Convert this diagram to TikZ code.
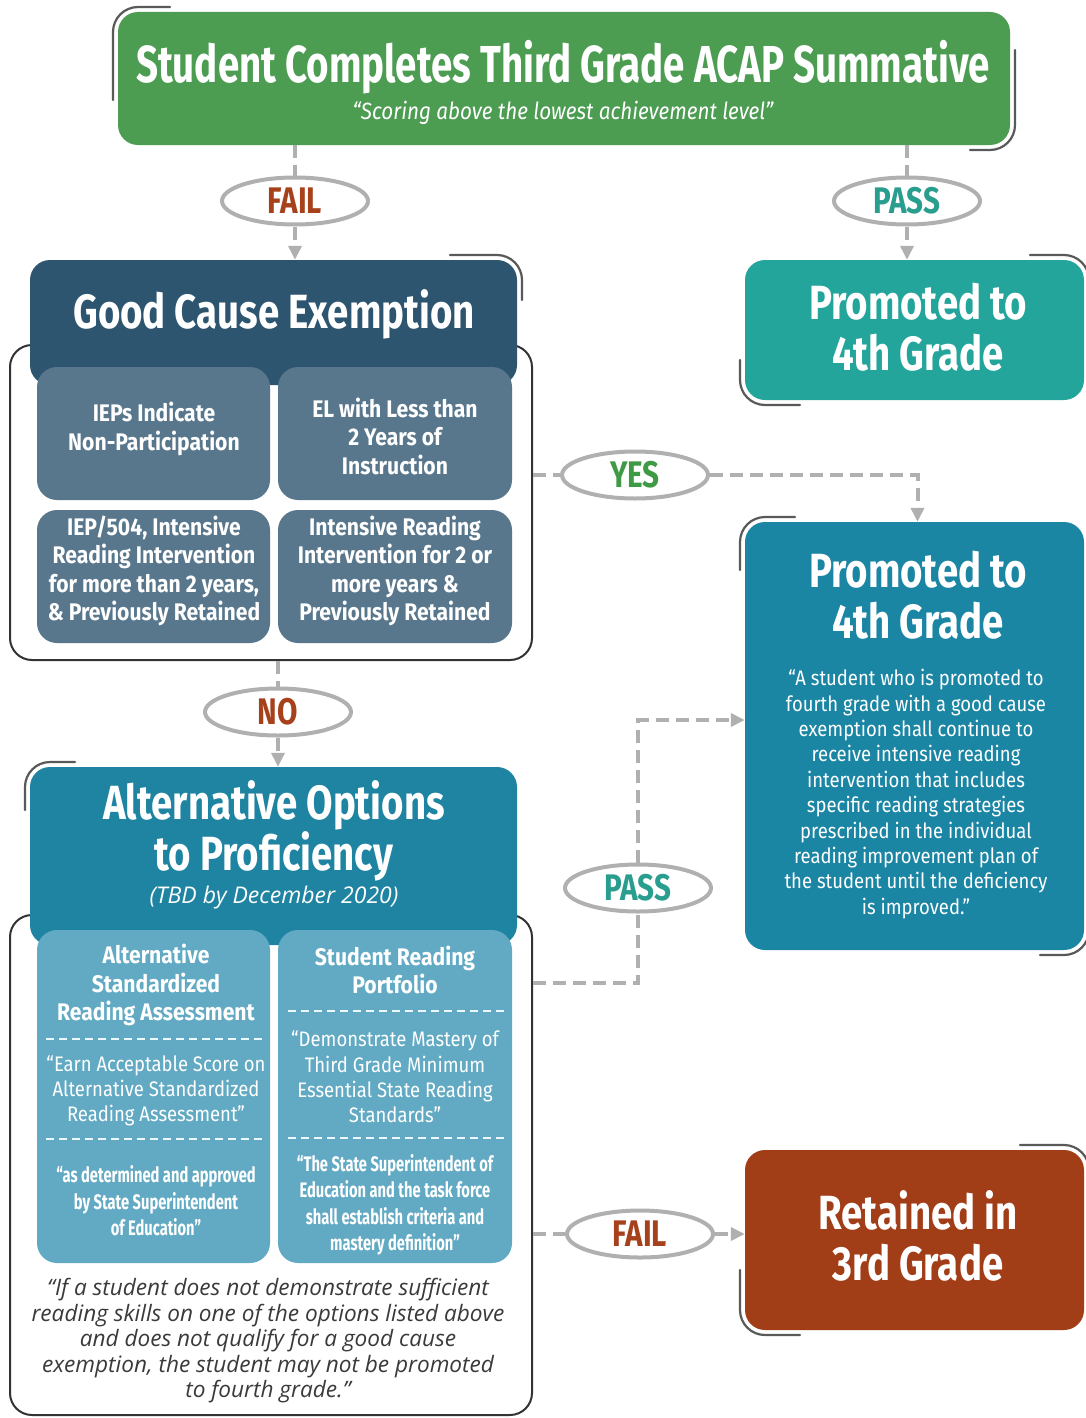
\documentclass[tikz,border=0pt]{standalone}
\usepackage{fontspec}
\setmainfont{Fira Sans}
\newfontfamily\ttlf[FakeStretch=0.74]{Fira Sans}
\newfontfamily\hd[FakeStretch=0.8]{Fira Sans}
\newfontfamily\cnd[FakeStretch=0.88]{Fira Sans}
\newfontfamily\bcnd[FakeStretch=0.88]{Fira Sans}
\newfontfamily\xcnd[FakeStretch=0.7]{Fira Sans}
\newfontfamily\itf{Open Sans}
\usetikzlibrary{arrows.meta,shapes.geometric,calc}
\definecolor{cgreen}{HTML}{4C9C52}
\definecolor{cgce}{HTML}{2D5570}
\definecolor{cslate}{HTML}{58778C}
\definecolor{calt}{HTML}{1E84A1}
\definecolor{caltin}{HTML}{62AAC3}
\definecolor{cprom}{HTML}{24A59B}
\definecolor{cprom2}{HTML}{1B85A4}
\definecolor{cret}{HTML}{A13D17}
\definecolor{cfail}{HTML}{A6411B}
\definecolor{cpass}{HTML}{2A9E8E}
\definecolor{cyes}{HTML}{3F9A45}
\definecolor{cgray}{HTML}{B0B0B0}
\definecolor{cpara}{HTML}{3A3A3A}
\begin{document}
\begin{tikzpicture}[x=1pt,y=-1pt,
  conn/.style={draw=cgray, line width=4pt, dash pattern=on 13pt off 7pt},
  arr/.style={-{Triangle[length=14pt,width=13pt]}},
  lbl/.style={ellipse, draw=cgray, line width=4pt, fill=white, minimum width=146pt, minimum height=47pt, inner sep=0pt, font=\hd\bfseries\fontsize{37}{37}\selectfont},
  box/.style={rounded corners=20pt, inner sep=0pt},
  outer/.style={rounded corners=22pt, draw=black!80, line width=2pt, fill=white, inner sep=0pt},
  shad/.style={draw=black!65, line width=2.2pt, line cap=round},
  sep/.style={draw=white!92!cyan, line width=1.5pt, dash pattern=on 8pt off 5pt},
  txt/.style={text=white, align=center, inner sep=0pt},
  hdbig/.style={txt, font=\hd\bfseries\fontsize{48}{51}\selectfont},
  inbold/.style={txt, font=\bcnd\bfseries\fontsize{24}{28.5}\selectfont},
  inreg/.style={txt, font=\cnd\fontsize{21}{25.2}\selectfont},
  inx/.style={txt, font=\xcnd\bfseries\fontsize{21}{26.5}\selectfont}
]
\useasboundingbox (0,0) rectangle (1086,1418);
\fill[white] (0,0) rectangle (1086,1418);

% corner shadows
\draw[shad] (113,100) -- (113,32) arc[start angle=180,end angle=270,radius=25] -- (170,7);
\draw[shad] (1015,50) -- (1015,125) arc[start angle=0,end angle=90,radius=25] -- (970,150);
\draw[shad] (450,255) -- (497,255) arc[start angle=270,end angle=360,radius=25] -- (522,300);
\draw[shad] (1030,255) -- (1064,255) arc[start angle=270,end angle=360,radius=25] -- (1089,300);
\draw[shad] (740,360) -- (740,380) arc[start angle=180,end angle=90,radius=25] -- (800,405);
\draw[shad] (740,570) -- (740,542) arc[start angle=180,end angle=270,radius=25] -- (795,517);
\draw[shad] (1089,900) -- (1089,930) arc[start angle=0,end angle=90,radius=25] -- (1040,955);
\draw[shad] (25,810) -- (25,787) arc[start angle=180,end angle=270,radius=25] -- (75,762);
\draw[shad] (1020,1145) -- (1064,1145) arc[start angle=270,end angle=360,radius=25] -- (1089,1190);
\draw[shad] (740,1270) -- (740,1310) arc[start angle=180,end angle=90,radius=25] -- (800,1335);

% top box
\node[box, fill=cgreen, minimum width=892pt, minimum height=133pt] (top) at (564,78.5) {};
\node[txt, font=\ttlf\bfseries\fontsize{52}{52}\selectfont] (ttl) at (563,67) {Student Completes Third Grade ACAP Summative};
\node[txt, font=\cnd\itshape\fontsize{23.5}{23.5}\selectfont] (sub) at (563,113) {“Scoring above the lowest achievement level”};

% right boxes
\node[box, fill=cprom, minimum width=339pt, minimum height=140pt] (prom1) at (914.5,330) {};
\node[hdbig] (prom1t) at (918,327) {Promoted to\\4th Grade};

\node[box, fill=cprom2, minimum width=339pt, minimum height=428pt] (prom2) at (914.5,736) {};
\node[hdbig] (prom2t) at (918,595) {Promoted to\\4th Grade};
\node[txt, font=\cnd\fontsize{21}{25.4}\selectfont] (prom2b) at (916,794) {“A student who is promoted to\\fourth grade with a good cause\\exemption shall continue to\\receive intensive reading\\intervention that includes\\specific reading strategies\\prescribed in the individual\\reading improvement plan of\\the student until the deficiency\\is improved.”};

\node[box, fill=cret, minimum width=339pt, minimum height=180pt] (ret) at (914.5,1240) {};
\node[hdbig] (rett) at (918,1236) {Retained in\\3rd Grade};

% good cause exemption
\node[outer, minimum width=522pt, minimum height=315pt] (gceo) at (271,502.5) {};
\node[box, fill=cgce, minimum width=487pt, minimum height=125pt] (gce) at (273.5,322.5) {};
\node[txt, font=\hd\bfseries\fontsize{48}{48}\selectfont] (gcet) at (274,314) {Good Cause Exemption};
\node[box, fill=cslate, minimum width=233pt, minimum height=133pt] (g1) at (153.5,433.5) {};
\node[box, fill=cslate, minimum width=234pt, minimum height=133pt] (g2) at (395,433.5) {};
\node[box, fill=cslate, minimum width=233pt, minimum height=133pt] (g3) at (153.5,576.5) {};
\node[box, fill=cslate, minimum width=234pt, minimum height=133pt] (g4) at (395,576.5) {};
\node[inbold] (g1t) at (154,429) {IEPs Indicate\\Non-Participation};
\node[inbold] (g2t) at (395,436) {EL with Less than\\2 Years of\\Instruction};
\node[inbold] (g3t) at (154,571) {IEP/504, Intensive\\Reading Intervention\\for more than 2 years,\\\& Previously Retained};
\node[inbold] (g4t) at (395,571) {Intensive Reading\\Intervention for 2 or\\more years \&\\Previously Retained};

% alternative options
\node[outer, minimum width=522pt, minimum height=500pt] (alto) at (271,1165) {};
\node[box, fill=calt, minimum width=487pt, minimum height=178pt] (alt) at (273.5,856) {};
\node[txt, font=\hd\bfseries\fontsize{48}{47}\selectfont] (altt) at (274,831) {Alternative Options\\to Proficiency};
\node[txt, font=\itf\itshape\fontsize{23}{23}\selectfont] (alts) at (274,898) {(TBD by December 2020)};
\node[box, fill=caltin, minimum width=233pt, minimum height=333pt] (a1) at (153.5,1096.5) {};
\node[box, fill=caltin, minimum width=234pt, minimum height=333pt] (a2) at (395,1096.5) {};
\node[inbold] (a1t) at (156,985) {Alternative\\Standardized\\Reading Assessment};
\draw[sep] (46,1039) -- (264,1039);
\node[inreg] (a1q) at (156,1091) {“Earn Acceptable Score on\\Alternative Standardized\\Reading Assessment”};
\draw[sep] (46,1139) -- (264,1139);
\node[inx] (a1x) at (156,1201) {“as determined and approved\\by State Superintendent\\of Education”};
\node[inbold] (a2t) at (395,970) {Student Reading\\Portfolio};
\draw[sep] (288,1011) -- (506,1011);
\node[inreg] (a2q) at (395,1077) {“Demonstrate Mastery of\\Third Grade Minimum\\Essential State Reading\\Standards”};
\draw[sep] (288,1138) -- (506,1138);
\node[inx] (a2x) at (395,1205) {“The State Superintendent of\\Education and the task force\\shall establish criteria and\\mastery definition”};
\node[align=center, inner sep=0pt, text=cpara, font=\itf\itshape\fontsize{22.6}{25.5}\selectfont] (para) at (268,1341) {“If a student does not demonstrate sufficient\\reading skills on one of the options listed above\\and does not qualify for a good cause\\exemption, the student may not be promoted\\to fourth grade.”};

% decision labels
\node[lbl, text=cfail] (fail1) at (295,201) {FAIL};
\node[lbl, text=cpass] (pass1) at (907,201) {PASS};
\node[lbl, text=cyes] (yes) at (635,475) {YES};
\node[lbl, text=cfail] (no) at (278,712) {NO};
\node[lbl, text=cpass] (pass2) at (638,888) {PASS};
\node[lbl, text=cfail] (fail2) at (640,1234) {FAIL};

% connectors
\draw[conn] (fail1 |- top.south) -- (fail1.north);
\draw[conn, arr] (fail1.south) -- (fail1 |- gce.north);
\draw[conn] (pass1 |- top.south) -- (pass1.north);
\draw[conn, arr] (pass1.south) -- (pass1 |- prom1.north);
\draw[conn] (gceo.east |- yes) -- (yes.west);
\draw[conn, arr] (yes.east) -| ([xshift=3pt]prom2.north);
\draw[conn] (no |- gceo.south) -- (no.north);
\draw[conn, arr] (no.south) -- (no |- alt.north);
\draw[conn] ([yshift=182pt]alto.east) -| (pass2.south);
\draw[conn, arr] (pass2.north) |- ([yshift=16pt]prom2.west);
\draw[conn] (alto.east |- fail2) -- (fail2.west);
\draw[conn, arr] (fail2.east) -- (fail2 -| ret.west);
\end{tikzpicture}
\end{document}
